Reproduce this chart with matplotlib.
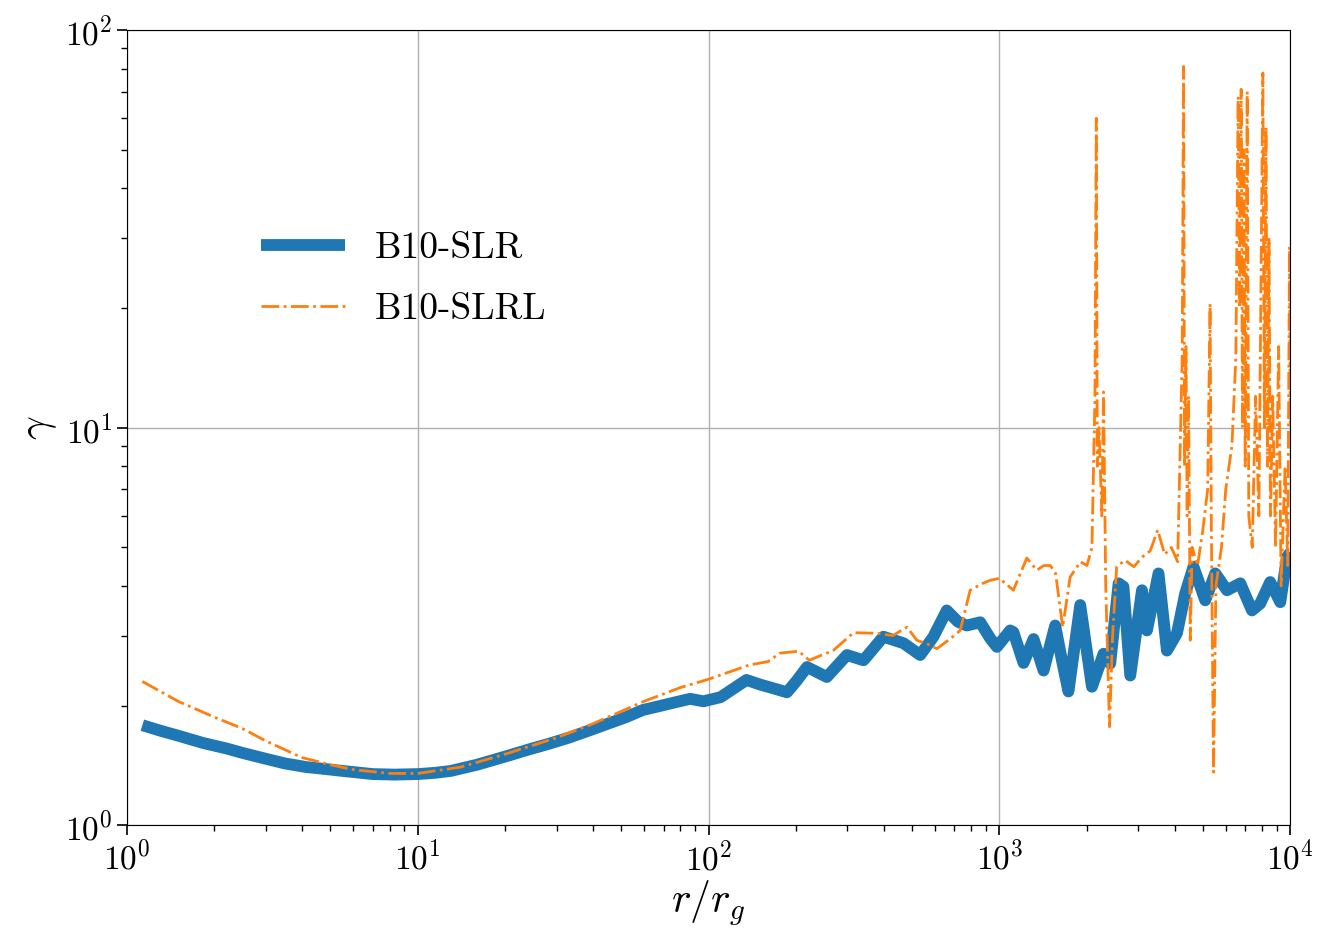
import matplotlib
matplotlib.use("Agg")
import matplotlib.pyplot as plt

plt.rcParams['font.family'] = ['cmr10', 'DejaVu Serif']
plt.rcParams['mathtext.fontset'] = 'cm'
plt.rcParams['axes.formatter.use_mathtext'] = True

# B10-SLR (thick blue)
slr_r = [1.13, 1.3, 1.5, 1.83, 2.2, 2.5, 3.0, 3.5, 4.16, 4.6, 5.5, 7.0, 8.35, 10, 11.5, 13,
         16, 20.7, 24, 28, 33, 37.9, 45, 52, 59.5, 67, 75, 86.4, 96, 110, 135, 150, 167,
         186, 200, 218, 255, 299, 341, 399, 468, 534, 593, 659, 720, 772, 859, 930, 980,
         1089, 1117, 1210, 1310, 1418, 1555, 1640, 1727, 1896, 2080, 2280, 2404, 2569,
         2670, 2817, 3091, 3215, 3524, 3766, 4077, 4353, 4648, 5100, 5521, 6058, 6731,
         7385, 7880, 8530, 9240, 9740, 10000]
slr_g = [1.785, 1.73, 1.68, 1.61, 1.56, 1.52, 1.47, 1.43, 1.40, 1.39, 1.37, 1.345, 1.341,
         1.345, 1.355, 1.37, 1.42, 1.50, 1.55, 1.60, 1.66, 1.72, 1.80, 1.87, 1.95, 1.99,
         2.03, 2.08, 2.05, 2.10, 2.32, 2.26, 2.21, 2.16, 2.30, 2.50, 2.36, 2.68, 2.60, 2.98,
         2.87, 2.68, 2.98, 3.47, 3.25, 3.18, 3.24, 2.95, 2.81, 3.09, 3.06, 2.56, 2.94, 2.45,
         3.18, 2.60, 2.17, 3.58, 2.23, 2.70, 2.55, 4.06, 3.98, 2.38, 3.90, 3.09, 4.30, 2.75,
         3.04, 3.83, 4.47, 3.68, 4.30, 3.90, 4.06, 3.47, 3.61, 4.09, 3.64, 4.73, 4.85]

# B10-SLRL (orange dash-dot)
slrl_r = [1.13, 1.5, 2.0, 2.5, 3.0, 4.0, 5.0, 6.0, 8.0, 10, 14, 20, 30, 40, 60, 80, 100,
          138, 160, 176, 204, 222, 245, 268, 315, 379, 430, 481, 520, 570, 609, 680, 733,
          793, 870, 929, 1000, 1117, 1180, 1242, 1345, 1420, 1496, 1560, 1650, 1750, 1900,
          2000, 2080, 2130, 2153, 2170, 2200, 2250, 2280, 2320, 2390, 2450, 2530, 2700,
          2900, 3100, 3300, 3500, 3700, 3900, 4100, 4250, 4297, 4330, 4380, 4420, 4470,
          4530, 4600, 4800, 5000, 5200, 5300, 5350, 5446, 5550, 5800, 6000, 6300, 6500,
          6620, 6700, 6780, 6850, 6930, 7000, 7110, 7200, 7400, 7600, 7800, 8050, 8150,
          8250, 8350, 8450, 8550, 8700, 8900, 9120, 9300, 9600, 9800, 9940, 10000]
slrl_g = [2.30, 2.05, 1.87, 1.75, 1.63, 1.48, 1.42, 1.38, 1.35, 1.35, 1.40, 1.51, 1.66,
          1.80, 2.05, 2.22, 2.33, 2.53, 2.58, 2.71, 2.74, 2.60, 2.68, 2.75, 3.05, 3.04,
          3.00, 3.15, 2.92, 2.85, 2.78, 2.95, 3.09, 3.90, 4.05, 4.13, 4.18, 3.90, 4.30,
          4.70, 4.38, 4.50, 4.50, 4.30, 3.15, 4.21, 4.60, 4.50, 5.00, 12.0, 60.0, 8.0,
          10.0, 6.0, 12.3, 4.0, 1.77, 3.0, 4.47, 4.64, 4.47, 4.73, 4.90, 5.53, 4.80, 5.00,
          4.60, 15.0, 81.0, 8.0, 16.0, 6.0, 12.0, 2.92, 5.0, 4.5, 5.5, 7.0, 20.5, 6.0,
          1.36, 4.0, 5.0, 7.0, 9.0, 15.0, 68.0, 20.0, 71.0, 10.0, 50.0, 8.0, 70.0, 6.0,
          5.0, 12.0, 6.0, 78.0, 10.0, 57.0, 8.0, 30.0, 6.0, 12.0, 5.0, 16.0, 4.0, 8.0,
          4.5, 28.5, 10.0]

fig = plt.figure(figsize=(13.22, 9.41), dpi=100)
ax = fig.add_axes([0.096, 0.123, 0.880, 0.845])

ax.plot(slr_r, slr_g, color='#1f77b4', lw=8.5, label='B10-SLR',
        solid_joinstyle='round', solid_capstyle='butt')
ax.plot(slrl_r, slrl_g, color='#ff7f0e', lw=2, ls='-.', label='B10-SLRL')

ax.set_xscale('log')
ax.set_yscale('log')
ax.set_xlim(1, 1e4)
ax.set_ylim(1, 100)
ax.grid(True, which='major', color='#b0b0b0', lw=1)

ax.tick_params(which='major', labelsize=24, length=7, width=1.2)
ax.tick_params(which='minor', length=4, width=1)
ax.set_xlabel(r'$r/r_g$', fontsize=30, labelpad=2)
ax.set_ylabel(r'$\gamma$', fontsize=30, labelpad=4)

ax.legend(loc='upper left', bbox_to_anchor=(0.086, 0.789), frameon=False,
          fontsize=27, handlelength=2.25, labelspacing=0.75, handletextpad=0.8)

fig.savefig('out.png', dpi=100)
